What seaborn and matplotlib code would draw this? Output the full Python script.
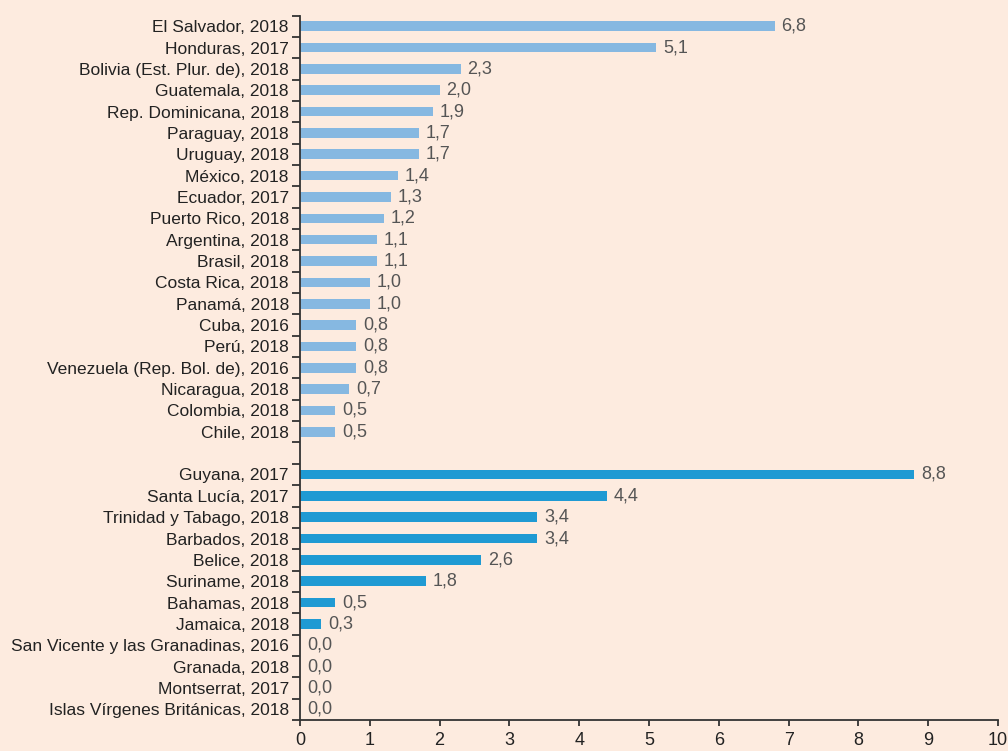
import numpy as np
import pandas as pd
import matplotlib
matplotlib.use("Agg")
import matplotlib.pyplot as plt
import seaborn as sns

# datos: grupo 1 (America Latina), grupo 2 (Caribe)
paises_a = ["El Salvador, 2018", "Honduras, 2017", "Bolivia (Est. Plur. de), 2018",
            "Guatemala, 2018", "Rep. Dominicana, 2018", "Paraguay, 2018", "Uruguay, 2018",
            "México, 2018", "Ecuador, 2017", "Puerto Rico, 2018", "Argentina, 2018",
            "Brasil, 2018", "Costa Rica, 2018", "Panamá, 2018", "Cuba, 2016", "Perú, 2018",
            "Venezuela (Rep. Bol. de), 2016", "Nicaragua, 2018", "Colombia, 2018", "Chile, 2018"]
valores_a = [6.8, 5.1, 2.3, 2.0, 1.9, 1.7, 1.7, 1.4, 1.3, 1.2, 1.1, 1.1, 1.0, 1.0,
             0.8, 0.8, 0.8, 0.7, 0.5, 0.5]

paises_b = ["Guyana, 2017", "Santa Lucía, 2017", "Trinidad y Tabago, 2018", "Barbados, 2018",
            "Belice, 2018", "Suriname, 2018", "Bahamas, 2018", "Jamaica, 2018",
            "San Vicente y las Granadinas, 2016", "Granada, 2018", "Montserrat, 2017",
            "Islas Vírgenes Británicas, 2018"]
valores_b = [8.8, 4.4, 3.4, 3.4, 2.6, 1.8, 0.5, 0.3, 0.0, 0.0, 0.0, 0.0]

xticks = list(range(0, 11))

df = pd.DataFrame({
    "pais": paises_a + paises_b,
    "valor": valores_a + valores_b,
    "grupo": ["a"] * len(paises_a) + ["b"] * len(paises_b),
})
orden = paises_a + [" "] + paises_b

bg = "#FDEBDF"
plt.rcParams["font.family"] = ["Liberation Sans", "DejaVu Sans"]
fs = 12.5

fig = plt.figure(figsize=(10.08, 7.51), dpi=100, facecolor=bg)
ax = fig.add_axes([0.2976, 0.0413, 0.6925, 0.9380])
ax.set_facecolor(bg)

sns.barplot(data=df, y="pais", x="valor", hue="grupo", order=orden,
            palette={"a": "#86B8E1", "b": "#1F9AD3"}, dodge=False, saturation=1,
            width=0.45, legend=False, ax=ax, orient="h")

for c in ax.containers:
    etiquetas = [f"{v:.1f}".replace(".", ",") for v in c.datavalues]
    ax.bar_label(c, labels=etiquetas, padding=5, fontsize=13, color="#555555")

n = len(orden)
ax.set_xlim(0, 10)
ax.set_ylim(n - 0.5, -0.5)
ax.set_xticks(xticks)
ax.set_yticks(np.arange(-0.5, n, 1.0), minor=True)
ax.tick_params(axis="y", which="major", length=0, pad=8, labelsize=fs, labelcolor="#222222")
ax.tick_params(axis="y", which="minor", length=6, width=1.3, color="#333333", direction="out")
ax.tick_params(axis="x", length=4, width=1.3, color="#333333", labelsize=13,
               labelcolor="#222222", pad=5)
ax.set_xlabel("")
ax.set_ylabel("")
for s in ["top", "right"]:
    ax.spines[s].set_visible(False)
for s in ["left", "bottom"]:
    ax.spines[s].set_color("#333333")
    ax.spines[s].set_linewidth(1.3)

fig.savefig("out.png", dpi=100, facecolor=bg)
